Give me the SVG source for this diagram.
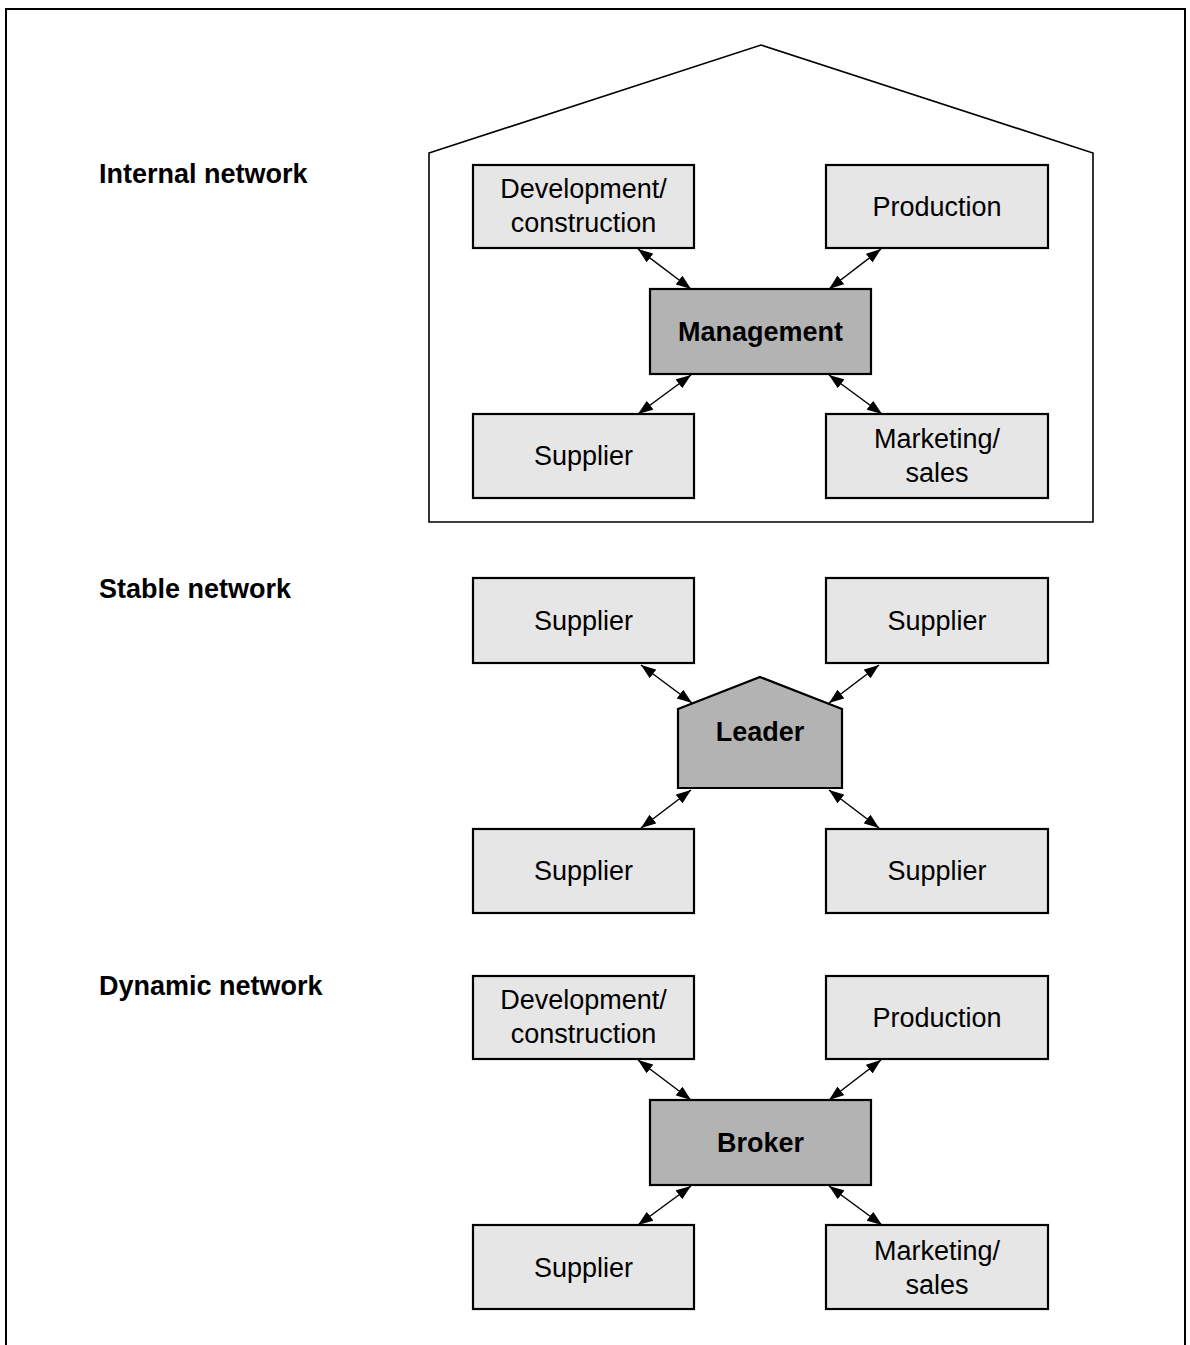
<svg xmlns="http://www.w3.org/2000/svg" width="1190" height="1345" viewBox="0 0 1190 1345">
<defs>
<marker id="ah" viewBox="0 0 15 11" refX="15" refY="5.5" markerWidth="15" markerHeight="11" markerUnits="userSpaceOnUse" orient="auto-start-reverse">
<path d="M0,0 L15,5.5 L0,11 Z" fill="#000"/>
</marker>
</defs>
<style>
.box{fill:#e6e6e6;stroke:#000;stroke-width:2.2}
.hub{fill:#b3b3b3;stroke:#000;stroke-width:2.2}
.t{font-family:"Liberation Sans",Arial,sans-serif;font-size:27px;text-anchor:middle;fill:#000}
.b{font-weight:bold}
.lbl{font-family:"Liberation Sans",Arial,sans-serif;font-size:27px;font-weight:bold;fill:#000}
.c{stroke:#000;stroke-width:1.5;fill:none;marker-start:url(#ah);marker-end:url(#ah)}
</style>
<rect width="1190" height="1345" fill="#fff"/>
<path d="M6,1345 V9 H1185 V1345" fill="none" stroke="#000" stroke-width="2"/>
<g id="labels">
<text class="lbl" x="99" y="183">Internal network</text>
<text class="lbl" x="99" y="598">Stable network</text>
<text class="lbl" x="99" y="995">Dynamic network</text>
</g>
<g id="house"><polygon points="429,153 761,45 1093,153 1093,522 429,522" fill="none" stroke="#000" stroke-width="1.6"/></g>
<g id="int-dev"><rect class="box" x="473" y="165" width="221" height="83"/><text class="t" x="583.5" y="198">Development/</text><text class="t" x="583.5" y="232">construction</text></g>
<g id="int-prod"><rect class="box" x="826" y="165" width="222" height="83"/><text class="t" x="937" y="216">Production</text></g>
<g id="int-mgmt"><rect class="hub" x="650" y="289" width="221" height="85"/><text class="t b" x="760.5" y="341">Management</text></g>
<g id="int-sup"><rect class="box" x="473" y="414" width="221" height="84"/><text class="t" x="583.5" y="465">Supplier</text></g>
<g id="int-mkt"><rect class="box" x="826" y="414" width="222" height="84"/><text class="t" x="937" y="448">Marketing/</text><text class="t" x="937" y="482">sales</text></g>
<g id="st-sup1"><rect class="box" x="473" y="578" width="221" height="85"/><text class="t" x="583.5" y="630">Supplier</text></g>
<g id="st-sup2"><rect class="box" x="826" y="578" width="222" height="85"/><text class="t" x="937" y="630">Supplier</text></g>
<g id="st-leader"><polygon class="hub" points="678,709 760,677 842,709 842,788 678,788"/><text class="t b" x="760" y="741">Leader</text></g>
<g id="st-sup3"><rect class="box" x="473" y="829" width="221" height="84"/><text class="t" x="583.5" y="880">Supplier</text></g>
<g id="st-sup4"><rect class="box" x="826" y="829" width="222" height="84"/><text class="t" x="937" y="880">Supplier</text></g>
<g id="dyn-dev"><rect class="box" x="473" y="976" width="221" height="83"/><text class="t" x="583.5" y="1009">Development/</text><text class="t" x="583.5" y="1043">construction</text></g>
<g id="dyn-prod"><rect class="box" x="826" y="976" width="222" height="83"/><text class="t" x="937" y="1027">Production</text></g>
<g id="dyn-broker"><rect class="hub" x="650" y="1100" width="221" height="85"/><text class="t b" x="760.5" y="1152">Broker</text></g>
<g id="dyn-sup"><rect class="box" x="473" y="1225" width="221" height="84"/><text class="t" x="583.5" y="1277">Supplier</text></g>
<g id="dyn-mkt"><rect class="box" x="826" y="1225" width="222" height="84"/><text class="t" x="937" y="1260">Marketing/</text><text class="t" x="937" y="1294">sales</text></g>
<g id="connectors">
<line class="c" x1="638" y1="249" x2="691" y2="289"/>
<line class="c" x1="881" y1="249" x2="829" y2="289"/>
<line class="c" x1="691" y1="375" x2="638" y2="414"/>
<line class="c" x1="829" y1="375" x2="882" y2="414"/>
<line class="c" x1="641" y1="665" x2="692" y2="703"/>
<line class="c" x1="879" y1="665" x2="829" y2="703"/>
<line class="c" x1="691" y1="790" x2="641" y2="828"/>
<line class="c" x1="829" y1="790" x2="879" y2="828"/>
<line class="c" x1="638" y1="1060" x2="691" y2="1100"/>
<line class="c" x1="881" y1="1060" x2="829" y2="1100"/>
<line class="c" x1="691" y1="1186" x2="638" y2="1225"/>
<line class="c" x1="829" y1="1186" x2="882" y2="1225"/>
</g>
</svg>
